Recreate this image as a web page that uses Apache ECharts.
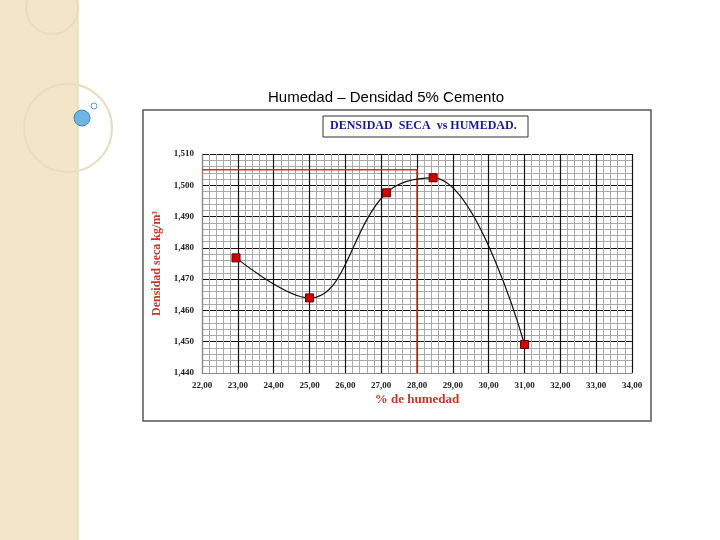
<!DOCTYPE html><html><head><meta charset="utf-8">
<script src="https://cdn.jsdelivr.net/npm/echarts@6/dist/echarts.min.js"></script>
<style>html,body{margin:0;padding:0;background:#fff}#c{width:720px;height:540px}</style></head><body><div id="c"></div>
<script>
const humedad=[22.95,25.0,27.15,28.45,31.0];
const densidad=[1476.8,1464.0,1497.6,1502.4,1449.1];
const optX=28.0, optY=1505;
const xTicks=[22,34], yTicks=[1440,1510];
const c=echarts.init(document.getElementById('c'));
const pts=humedad.map((x,i)=>[x,densidad[i]]);
const serif='"Liberation Serif","DejaVu Serif",serif';
c.setOption({
 animation:false,
 graphic:[
  {type:'rect',shape:{x:0,y:0,width:78,height:540},style:{fill:'#f3e6c8'},z:-10},
  {type:'line',shape:{x1:78,y1:0,x2:78,y2:540},style:{stroke:'#e2d2ac',lineWidth:1},z:-10},
  {type:'circle',shape:{cx:52,cy:8,r:26},style:{fill:'none',stroke:'#e8dcc0',lineWidth:2},z:-9},
  {type:'circle',shape:{cx:68,cy:128,r:44},style:{fill:'none',stroke:'#e8dcc0',lineWidth:2},z:-9},
  {type:'circle',shape:{cx:82,cy:118,r:8},style:{fill:'#6fb5e3',stroke:'#3b86c0',lineWidth:1},z:-9},
  {type:'circle',shape:{cx:94,cy:106,r:3},style:{fill:'#fff',stroke:'#5b9cc8',lineWidth:1},z:-9},
  {type:'text',left:268,top:90,style:{text:'Humedad – Densidad 5% Cemento',font:'15px "Liberation Sans",Arial,sans-serif',fill:'#000'}},
  {type:'rect',shape:{x:143,y:110,width:508,height:311},style:{fill:'#fff',stroke:'#555',lineWidth:1.5},z:-5},
  {type:'rect',shape:{x:323,y:116,width:205,height:21},style:{fill:'#fff',stroke:'#333',lineWidth:1}},
  {type:'text',left:330,top:120,style:{text:'DENSIDAD  SECA  vs HUMEDAD.',font:'bold 12px '+serif,fill:'#1a1a8c'}}
 ],
 grid:{left:202,right:88,top:154,bottom:167},
 xAxis:{type:'value',min:xTicks[0],max:xTicks[1],interval:1,
  name:'% de humedad',nameLocation:'middle',nameGap:20,nameTextStyle:{color:'#c0392b',fontFamily:serif,fontWeight:'bold',fontSize:13},
  axisLabel:{formatter:v=>v.toFixed(2).replace('.',','),fontFamily:serif,fontWeight:'bold',fontSize:9,color:'#222'},
  axisLine:{lineStyle:{color:'#888'}},axisTick:{show:false},
  splitLine:{lineStyle:{color:'#111',width:1.2}},
  minorTick:{show:false,splitNumber:5},minorSplitLine:{show:true,lineStyle:{color:'#aaa',width:1}}},
 yAxis:{type:'value',min:yTicks[0],max:yTicks[1],interval:10,
  name:'Densidad seca kg/m³',nameLocation:'middle',nameGap:36,nameTextStyle:{color:'#c0392b',fontFamily:serif,fontWeight:'bold',fontSize:12},
  axisLabel:{formatter:v=>'1,'+String(v).slice(1),fontFamily:serif,fontWeight:'bold',fontSize:9,color:'#222'},
  axisLine:{show:true,lineStyle:{color:'#888'}},axisTick:{show:false},
  splitLine:{lineStyle:{color:'#111',width:1.2}},
  minorTick:{show:false,splitNumber:5},minorSplitLine:{show:true,lineStyle:{color:'#aaa',width:1}}},
 series:[
  {type:'line',data:pts,smooth:0.4,symbol:'rect',symbolSize:8,
   lineStyle:{color:'#111',width:1.2},itemStyle:{color:'#d00000',borderColor:'#600',borderWidth:1},z:5},
  {type:'line',data:[[xTicks[0],optY],[optX,optY],[optX,yTicks[0]]],symbol:'none',
   lineStyle:{color:'#c0392b',width:1.5},z:4}
 ]
});
</script></body></html>
